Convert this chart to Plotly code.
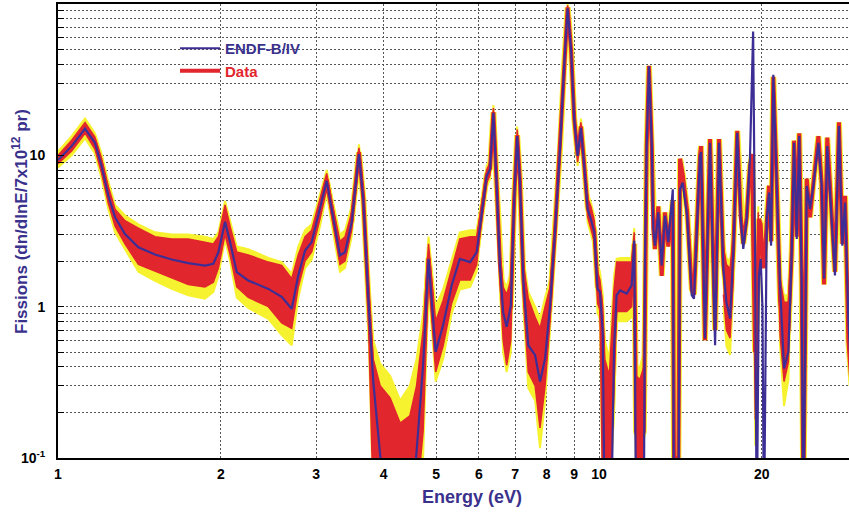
import plotly.graph_objects as go

# ---------------- data ----------------
energy = [
    1.00, 1.06, 1.122, 1.17, 1.204, 1.239, 1.275, 1.33, 1.408, 1.511,
    1.623, 1.741, 1.869, 1.937, 1.979, 2.036, 2.08, 2.14, 2.247, 2.448,
    2.591, 2.704, 2.781, 2.862, 2.944, 3.05, 3.138, 3.206, 3.32, 3.393,
    3.49, 3.60, 3.667, 3.747, 3.826, 3.94, 4.10, 4.30, 4.45, 4.60,
    4.73, 4.84, 4.91, 4.99, 5.15, 5.34, 5.53, 5.78, 5.94, 6.07,
    6.20, 6.29, 6.38, 6.47, 6.56, 6.65, 6.75, 6.87, 6.97, 7.06,
    7.14, 7.25, 7.40, 7.62, 7.78, 7.95, 8.12, 8.29, 8.47, 8.62,
    8.75, 8.88, 9.00, 9.13, 9.26, 9.39, 9.53, 9.66, 9.80, 9.94,
    10.04, 10.16, 10.25, 10.45, 10.57, 10.66, 10.78, 10.94, 11.25, 11.49,
    11.62, 11.71, 11.90, 12.10, 12.16, 12.25, 12.37, 12.52, 12.60, 12.69,
    12.87, 13.06, 13.24, 13.43, 13.69, 13.76, 14.02, 14.12, 14.28, 14.42,
    14.55, 14.84, 14.98, 15.37, 15.44, 15.70, 16.04, 16.39, 16.67, 16.98,
    17.20, 17.47, 17.71, 18.01, 18.28, 18.48, 18.75, 19.01, 19.20, 19.27,
    19.43, 19.57, 19.75, 19.90, 20.05, 20.18, 20.42, 20.62, 20.80, 21.00,
    21.31, 21.61, 21.98, 22.39, 22.71, 22.94, 23.20, 23.45, 23.70, 23.86,
    24.21, 24.55, 24.90, 25.44, 25.80, 26.06, 26.42, 26.92, 27.30, 27.77,
    28.17, 28.50, 28.90, 29.30]

endf = [
    9.3, 11.5, 15.0, 12.1, 8.5, 5.4, 3.89, 3.02, 2.47, 2.21,
    2.05, 1.94, 1.87, 1.92, 2.29, 3.64, 2.67, 1.69, 1.49, 1.31,
    1.16, 0.97, 1.61, 2.35, 2.67, 4.41, 6.78, 4.41, 2.18, 2.29,
    3.61, 10.2, 5.13, 1.13, 0.32, 0.105, 0.03, 0.03, 0.03, 0.11,
    0.41, 2.07, 1.13, 0.503, 0.753, 1.38, 2.07, 1.97, 2.29, 4.20,
    7.31, 8.09, 19.1, 6.28, 1.87, 0.92, 0.735, 1.02, 5.13, 13.4,
    6.95, 1.45, 0.556, 0.478, 0.32, 0.455, 1.02, 3.10, 10.9, 38.7,
    93.7, 49.8, 17.3, 9.9, 15.2, 8.5, 4.41, 3.79, 3.10, 1.31,
    1.25, 0.68, 0.03, 0.03, 0.08, 0.53, 1.19, 1.28, 1.22, 1.38,
    2.73, 0.03, 0.03, 0.03, 1.97, 11.5, 38.7, 11.5, 3.26, 2.53,
    4.20, 1.87, 3.99, 2.67, 5.97, 0.03, 0.03, 5.97, 6.61, 4.88,
    3.99, 1.19, 1.13, 9.9, 10.5, 0.616, 12.1, 0.556, 12.1, 1.78,
    1.07, 0.834, 2.29, 14.1, 3.79, 2.41, 3.79, 9.4, 45.0, 65.7,
    2.29, 0.03, 1.6, 2.07, 1.0, 0.03, 3.79, 5.68, 2.53, 34.1,
    6.28, 1.38, 0.391, 0.503, 2.29, 12.1, 2.80, 13.4, 1.38, 0.03,
    6.28, 4.41, 6.28, 12.1, 6.28, 1.53, 11.5, 3.43, 1.61, 15.6,
    2.53, 4.88, 0.834, 0.3]

data = [
    9.4, 11.6, 15.3, 12.3, 8.6, 5.5, 3.9, 3.1, 2.5, 2.25,
    2.1, 1.95, 1.9, 1.95, 2.4, 3.9, 2.8, 1.75, 1.5, 1.35,
    1.2, 1.0, 1.65, 2.4, 2.7, 4.5, 6.9, 4.5, 2.25, 2.35,
    3.7, 10.5, 5.2, 1.15, 0.3, 0.12, 0.12, 0.09, 0.1, 0.15,
    0.38, 2.1, 1.15, 0.55, 0.8, 1.4, 2.1, 2.05, 2.35, 4.3,
    7.4, 8.2, 19.3, 6.3, 1.9, 0.95, 0.75, 1.0, 5.2, 13.6,
    7.0, 1.5, 0.6, 0.5, 0.35, 0.5, 1.05, 3.1, 11.0, 39,
    95, 50, 17.5, 10, 15.5, 8.7, 4.5, 3.9, 3.2, 1.35,
    1.25, 0.6, 0.15, 0.1, 0.2, 0.6, 1.3, 1.4, 1.35, 1.45,
    2.6, 0.15, 0.12, 0.15, 2.0, 11.5, 39, 11.5, 3.3, 2.4,
    4.6, 1.6, 4.2, 2.5, 5.0, 0.1, 0.1, 9.5, 7.5, 5.5,
    4.3, 1.3, 1.2, 10, 11.5, 0.6, 12.8, 0.7, 12.8, 1.9,
    1.2, 0.95, 2.4, 14.5, 3.9, 2.6, 3.9, 8.5, 10.2, 3.0,
    0.5, 0.8, 3.8, 3.5, 2.0, 1.8, 3.9, 6.3, 2.7, 33,
    6.5, 1.1, 0.6, 0.7, 2.3, 12.5, 2.9, 14, 1.5, 0.05,
    7.0, 3.9, 6.5, 13.4, 6.5, 1.4, 13.1, 4.0, 1.7, 16.5,
    2.6, 5.4, 0.6, 0.3]

# spread of the measured data (red) and its error band (yellow); None separates pieces
band_energy = [
    1.00, 1.06, 1.122, 1.17, 1.204, 1.239, 1.275, 1.33, 1.408, 1.511,
    1.623, 1.741, 1.869, 1.937, 1.979, 2.036, 2.08, 2.14, 2.247, 2.448,
    2.591, 2.704, 2.781, 2.862, 2.944, 3.05, 3.138, 3.206, 3.32, 3.393,
    3.49, 3.60, 3.667, 3.747, 3.826, 3.94, 4.11, 4.29, 4.47, 4.60,
    4.73, 4.84, 4.91, 4.99, 5.15, 5.34, 5.53, 5.78, 5.94, 6.07,
    6.20, 6.29, 6.38, 6.47, 6.56, 6.65, 6.75, 6.87, 6.97, 7.06,
    7.14, 7.25, 7.40, 7.62, 7.78, 7.95, 8.12, 8.29, 8.47, 8.62,
    8.75, 8.88, 9.00, 9.13, 9.26, 9.39, 9.53, 9.66, 9.80, 9.94,
    10.04, 10.16, 10.25, 10.45, 10.66, 10.78, 10.94, 11.25, 11.49, 11.62,
    11.71, 11.90, 12.10, None,
    16.98, 17.20, 17.47, 17.71, None,
    19.33, 19.45, 19.57, 19.70, None,
    21.31, 21.61, 21.98, 22.39, 22.71]

red_lo = [
    8.8, 10.7, 14.0, 11.0, 7.6, 4.8, 3.4, 2.6, 1.9, 1.70,
    1.55, 1.40, 1.35, 1.45, 1.8, 3.0, 2.2, 1.35, 1.15, 1.0,
    0.78, 0.72, 1.35, 2.0, 2.3, 3.8, 6.0, 3.9, 1.9, 2.0,
    3.2, 9.2, 4.5, 0.85, 0.05, 0.05, 0.05, 0.05, 0.05, 0.05,
    0.15, 1.6, 0.8, 0.37, 0.55, 1.05, 1.5, 1.5, 1.9, 3.8,
    6.6, 7.4, 17.5, 5.6, 1.5, 0.6, 0.41, 0.6, 4.4, 12.2,
    6.2, 1.1, 0.37, 0.30, 0.158, 0.3, 0.8, 2.8, 10.0, 36,
    88, 46, 15.8, 9.0, 14.0, 7.8, 3.9, 3.3, 2.7, 1.05,
    0.95, 0.05, 0.05, 0.05, 0.3, 0.93, 0.93, 0.93, 1.0, 2.3,
    0.05, 0.05, 0.05, None,
    1.2, 0.7, 0.62, 1.5, None,
    1.2, 0.18, 0.3, 2.5, None,
    5.5, 0.65, 0.32, 0.43, 2.0]

red_hi = [
    10.0, 12.6, 16.5, 13.2, 9.5, 6.2, 4.4, 3.7, 3.3, 2.9,
    2.8, 2.8, 2.67, 2.6, 2.9, 4.7, 3.4, 2.3, 2.2, 1.97,
    1.87, 1.53, 2.2, 2.9, 3.2, 5.1, 7.6, 5.0, 2.7, 2.9,
    4.2, 11.2, 5.8, 1.4, 0.45, 0.30, 0.25, 0.17, 0.19, 0.30,
    0.7, 2.6, 1.5, 0.8, 1.1, 1.8, 2.8, 2.9, 2.9, 4.8,
    8.0, 9.0, 20.5, 7.0, 2.3, 1.35, 1.2, 1.5, 6.0, 14.8,
    7.8, 1.9, 1.13, 0.85, 0.72, 1.0, 1.35, 3.5, 11.8, 41,
    98, 53, 18.8, 10.9, 16.5, 9.4, 5.2, 4.6, 3.7, 1.7,
    1.5, 1.0, 0.45, 0.35, 1.3, 1.97, 1.97, 1.97, 1.97, 3.1,
    0.35, 0.33, 0.4, None,
    2.5, 1.9, 1.78, 3.0, None,
    5.0, 1.25, 1.5, 4.2, None,
    7.0, 1.53, 1.07, 1.07, 2.7]

yel_lo = [
    8.3, 10.0, 13.0, 10.3, 7.0, 4.4, 3.1, 2.4, 1.7, 1.48,
    1.31, 1.19, 1.13, 1.25, 1.6, 2.8, 2.0, 1.15, 0.98, 0.83,
    0.65, 0.556, 1.15, 1.8, 2.05, 3.4, 5.6, 3.5, 1.7, 1.8,
    2.9, 8.6, 4.2, 0.75, 0.05, 0.05, 0.05, 0.05, 0.05, 0.05,
    0.1, 1.4, 0.65, 0.32, 0.45, 0.9, 1.3, 1.35, 1.7, 3.5,
    6.2, 7.0, 16.5, 5.2, 1.3, 0.5, 0.37, 0.5, 4.0, 11.5,
    5.8, 0.95, 0.29, 0.24, 0.116, 0.24, 0.7, 2.6, 9.5, 34,
    85, 44, 15, 8.5, 13.2, 7.3, 3.6, 3.0, 2.5, 0.9,
    0.85, 0.05, 0.05, 0.05, 0.2, 0.8, 0.8, 0.8, 0.85, 2.1,
    0.05, 0.05, 0.05, None,
    1.0, 0.55, 0.48, 1.3, None,
    1.0, 0.12, 0.2, 2.2, None,
    5.0, 0.55, 0.22, 0.33, 1.8]

yel_hi = [
    10.6, 13.4, 17.5, 14.0, 10.2, 6.7, 4.7, 4.0, 3.5, 3.1,
    3.0, 3.0, 2.9, 2.8, 3.1, 5.0, 3.7, 2.5, 2.4, 2.1,
    1.97, 1.65, 2.5, 3.2, 3.5, 5.6, 8.0, 5.4, 3.0, 3.2,
    4.6, 11.8, 6.3, 1.6, 0.6, 0.42, 0.35, 0.24, 0.30, 0.45,
    0.9, 2.9, 1.7, 1.0, 1.3, 2.0, 3.1, 3.2, 3.2, 5.1,
    8.5, 9.5, 21.5, 7.5, 2.6, 1.5, 1.35, 1.7, 6.5, 15.5,
    8.3, 2.1, 1.25, 1.0, 0.83, 1.15, 1.5, 3.7, 12.4, 43,
    100, 56, 20, 11.5, 17.5, 10.0, 5.6, 4.9, 4.0, 1.9,
    1.7, 1.2, 0.6, 0.45, 1.6, 2.07, 2.1, 2.1, 2.1, 3.3,
    0.4, 0.4, 0.5, None,
    2.8, 2.1, 2.0, 3.3, None,
    6.0, 1.5, 1.8, 4.6, None,
    7.5, 1.7, 1.18, 1.2, 3.0]

x_tick_values = [1, 2, 3, 4, 5, 6, 7, 8, 9, 10, 20]
x_tick_labels = ["1", "2", "3", "4", "5", "6", "7", "8", "9", "10", "20"]
y_tick_values = [0.1, 0.2, 0.3, 0.4, 0.5, 0.6, 0.7, 0.8, 0.9,
                 1, 2, 3, 4, 5, 6, 7, 8, 9,
                 10, 20, 30, 40, 50, 60, 70, 80, 90, 100]
y_tick_labels = ["10<sup>-1</sup>"] + [""] * 8 + ["1"] + [""] * 8 + ["10"] + [""] * 9

assert len(energy) == len(endf) == len(data)
assert len(band_energy) == len(red_lo) == len(red_hi) == len(yel_lo) == len(yel_hi)

# ---------------- styling ----------------
BLUE = "#3d2e95"
RED = "#e2262d"
YELLOW = "#f6f230"
TITLE = "#3a318c"
FONT = "Liberation Sans, Arial, Helvetica, sans-serif"


def polygon(xs, lo, hi):
    px, py = [], []
    seg_x, seg_lo, seg_hi = [], [], []
    for e, a, b in list(zip(xs, lo, hi)) + [(None, None, None)]:
        if e is None:
            if seg_x:
                px += seg_x + seg_x[::-1] + [None]
                py += seg_hi + seg_lo[::-1] + [None]
            seg_x, seg_lo, seg_hi = [], [], []
        else:
            seg_x.append(e)
            seg_lo.append(a)
            seg_hi.append(b)
    return px, py


yx, yy = polygon(band_energy, yel_lo, yel_hi)
rx, ry = polygon(band_energy, red_lo, red_hi)

fig = go.Figure()
fig.add_trace(go.Scatter(x=yx, y=yy, mode="lines", fill="toself", fillcolor=YELLOW,
                         line=dict(color=YELLOW, width=2), hoverinfo="skip", showlegend=False))
fig.add_trace(go.Scatter(x=energy, y=data, mode="lines",
                         line=dict(color=YELLOW, width=6), hoverinfo="skip", showlegend=False))
fig.add_trace(go.Scatter(x=rx, y=ry, mode="lines", fill="toself", fillcolor=RED,
                         line=dict(color=RED, width=1.5), hoverinfo="skip", showlegend=False))
fig.add_trace(go.Scatter(x=energy, y=data, mode="lines", name="<span style='color:%s'>Data</span>" % RED,
                         line=dict(color=RED, width=4), legendrank=2, legendgroup="d"))
fig.add_trace(go.Scatter(x=energy, y=endf, mode="lines",
                         name="<span style='color:%s'>ENDF-B/IV</span>" % TITLE,
                         line=dict(color=BLUE, width=2.2), legendrank=1, legendgroup="e"))

axis_common = dict(
    showline=True, linecolor="black", linewidth=2,
    showgrid=True, gridcolor="#555555", gridwidth=1, griddash="1.5px,2.5px",
    zeroline=False,
    tickfont=dict(family=FONT, size=14, color="black", weight="bold"),
)

fig.update_xaxes(type="log", range=[0, 1.4621], tickmode="array",
                 tickvals=x_tick_values, ticktext=x_tick_labels,
                 ticks="", mirror=True, ticklabelstandoff=2, **axis_common)
fig.update_yaxes(type="log", range=[-1, 2], tickmode="array",
                 tickvals=y_tick_values, ticktext=y_tick_labels,
                 ticks="inside", ticklen=6, tickcolor="black", tickwidth=1,
                 ticklabelstandoff=8, **axis_common)

fig.update_layout(
    width=849, height=512,
    margin=dict(l=58, r=0, t=4, b=54),
    paper_bgcolor="white", plot_bgcolor="white",
    font=dict(family=FONT),
    showlegend=True,
    legend=dict(x=(175 - 58) / 791, xanchor="left", y=1 - (32 - 4) / 454, yanchor="top",
                bgcolor="rgba(0,0,0,0)", tracegroupgap=0, itemwidth=40,
                font=dict(family=FONT, size=15, weight="bold")),
    annotations=[
        dict(text="Energy (eV)", xref="paper", yref="paper",
             x=(472 - 58) / 791, y=-(497 - 458) / 454, xanchor="center", yanchor="middle",
             showarrow=False, font=dict(family=FONT, size=18, color=TITLE, weight="bold")),
        dict(text="Fissions (dn/dlnE/7x10<sup>12</sup> pr)", xref="paper", yref="paper",
             x=-(58 - 20) / 791, y=1 - (222 - 4) / 454, xanchor="center", yanchor="middle",
             textangle=-90, showarrow=False,
             font=dict(family=FONT, size=17, color=TITLE, weight="bold")),
    ],
)

fig.write_html("out.html", config={"displayModeBar": False})

# remove the browser's default page margin so the figure sits at the window origin
with open("out.html", encoding="utf-8") as fh:
    page = fh.read()
page = page.replace("<head>", "<head><style>html,body{margin:0;padding:0;overflow:hidden;}</style>", 1)
with open("out.html", "w", encoding="utf-8") as fh:
    fh.write(page)
